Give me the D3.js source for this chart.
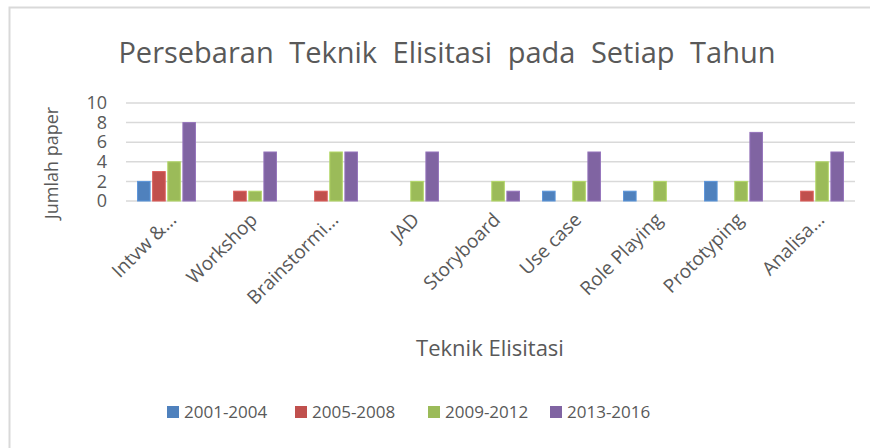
<!DOCTYPE html>
<html>
<head>
<meta charset="utf-8">
<script src="https://cdn.jsdelivr.net/npm/d3@7"></script>
<style>
  body { margin: 0; background: #fff; }
  svg { display: block; }
  text { font-family: "Open Sans", Lato, sans-serif; fill: #595959; }
</style>
</head>
<body>
<svg id="chart" width="870" height="448"></svg>
<script>
// Data
const categories = ["Intvw &...", "Workshop", "Brainstormi...", "JAD", "Storyboard",
	"Use case", "Role Playing", "Prototyping", "Analisa..."];
const series = ["2001-2004", "2005-2008", "2009-2012", "2013-2016"];
const values2001 = [2, 0, 0, 0, 0, 1, 1, 2, 0];
const values2005 = [3, 1, 1, 0, 0, 0, 0, 0, 1];
const values2009 = [4, 1, 5, 2, 2, 2, 2, 2, 4];
const values2013 = [8, 5, 5, 5, 1, 5, 0, 7, 5];
const yTicks = [0, 2, 4, 6, 8, 10];
const colors = ["#4F81BD", "#C0504D", "#9BBB59", "#8064A2"];

const allValues = [values2001, values2005, values2009, values2013];
const table = categories.map((c, i) => ({
	cat: c,
	vals: series.map((s, j) => ({ key: s, value: allValues[j][i] }))
}));

const font = "'Open Sans', Lato, sans-serif";
const svg = d3.select("#chart");
const plot = { left: 126, right: 855, top: 103, bottom: 201 };

// chart frame
svg.append("rect")
	.attr("x", 9.5).attr("y", 7.5)
	.attr("width", 880).attr("height", 460)
	.attr("fill", "none").attr("stroke", "#d9d9d9").attr("stroke-width", 2);

const x0 = d3.scaleBand().domain(categories).range([plot.left, plot.right]);
const x1 = d3.scaleBand().domain(series).range([0, x0.bandwidth()])
	.paddingInner(0.17).paddingOuter(0.765);
const y = d3.scaleLinear().domain([0, 10]).range([plot.bottom, plot.top]);
const color = d3.scaleOrdinal(series, colors);

// title
svg.append("text")
	.attr("x", 447).attr("y", 63)
	.attr("text-anchor", "middle")
	.attr("font-size", 29)
	.attr("word-spacing", 8)
	.text("Persebaran Teknik Elisitasi pada Setiap Tahun");

// grid
svg.append("g").selectAll("line")
	.data(yTicks)
	.join("line")
	.attr("x1", plot.left).attr("x2", plot.right)
	.attr("y1", d => y(d)).attr("y2", d => y(d))
	.attr("stroke", "#d9d9d9").attr("stroke-width", 1.5);

// y axis labels
const yAxis = svg.append("g")
	.attr("transform", `translate(${plot.left},0)`)
	.call(d3.axisLeft(y).tickValues(yTicks).tickSize(0).tickPadding(19));
yAxis.select(".domain").remove();
yAxis.selectAll("text")
	.attr("font-size", 18)
	.attr("font-family", font)
	.attr("fill", "#595959");

// bars
svg.append("g").selectAll("g")
	.data(table)
	.join("g")
	.attr("transform", d => `translate(${x0(d.cat)},0)`)
	.selectAll("rect")
	.data(d => d.vals.filter(v => v.value > 0))
	.join("rect")
	.attr("x", d => x1(d.key))
	.attr("width", x1.bandwidth())
	.attr("y", d => y(d.value))
	.attr("height", d => y(0) - y(d.value))
	.attr("fill", d => color(d.key))
	.attr("stroke", d => d3.color(color(d.key)).brighter(0.4))
	.attr("stroke-width", 1);

// x axis labels
const xAxis = svg.append("g")
	.attr("transform", `translate(0,${plot.bottom})`)
	.call(d3.axisBottom(x0).tickSize(0).tickPadding(0));
xAxis.select(".domain").remove();
xAxis.selectAll("text")
	.attr("font-size", 19)
	.attr("font-family", font)
	.attr("fill", "#595959")
	.attr("text-anchor", "end")
	.attr("dy", 0)
	.attr("y", 0)
	.attr("transform", "translate(11,20) rotate(-45)");

// axis titles
svg.append("text")
	.attr("transform", "translate(58,163) rotate(-90)")
	.attr("text-anchor", "middle")
	.attr("font-size", 18)
	.text("Jumlah paper");

svg.append("text")
	.attr("x", 490).attr("y", 356)
	.attr("text-anchor", "middle")
	.attr("font-size", 22)
	.text("Teknik Elisitasi");

// legend
const legendX = [167, 295, 428, 550];
const legend = svg.append("g").selectAll("g")
	.data(series)
	.join("g")
	.attr("transform", (d, i) => `translate(${legendX[i]},412)`);
legend.append("rect")
	.attr("x", 0).attr("y", -6)
	.attr("width", 12).attr("height", 12)
	.attr("fill", d => color(d));
legend.append("text")
	.attr("x", 17).attr("y", 6)
	.attr("font-size", 17)
	.text(d => d);
</script>
</body>
</html>
